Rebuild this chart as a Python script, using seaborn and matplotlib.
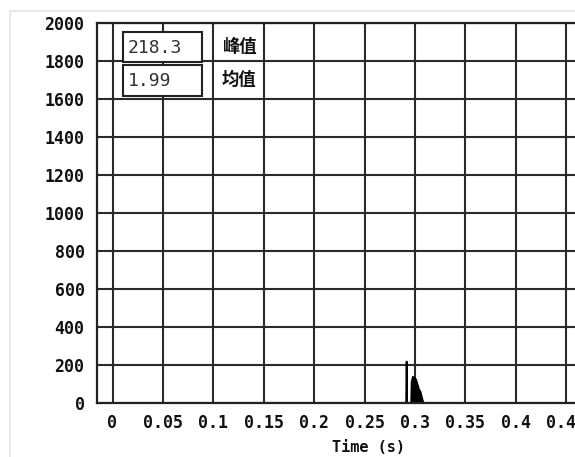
import matplotlib
matplotlib.use("Agg")
import matplotlib.pyplot as plt
import seaborn as sns
import pandas as pd
import numpy as np
from matplotlib.patches import Rectangle
from matplotlib.lines import Line2D
from matplotlib.ticker import MultipleLocator, FixedLocator, FixedFormatter

# ---- data ----
time_s = [0.0, 0.2913, 0.2918, 0.2923, 0.2963, 0.2968, 0.2980, 0.2995, 0.3010,
          0.3025, 0.3040, 0.3055, 0.3070, 0.3085, 0.4700]
amplitude = [0.0, 0.0, 218.3, 0.0, 0.0, 110.0, 138.0, 132.0, 125.0,
             100.0, 72.0, 60.0, 28.0, 0.0, 0.0]
x_ticks = [0, 0.05, 0.1, 0.15, 0.2, 0.25, 0.3, 0.35, 0.4, 0.45]
x_tick_labels = ["0", "0.05", "0.1", "0.15", "0.2", "0.25", "0.3", "0.35", "0.4", "0.45"]
y_ticks = [0, 200, 400, 600, 800, 1000, 1200, 1400, 1600, 1800, 2000]
peak_value = "218.3"
mean_value = "1.99"
peak_label = "峰值"
mean_label = "均值"
x_label = "Time (s)"

df = pd.DataFrame({"time": time_s, "amp": amplitude})

sns.set_theme(style="white")
plt.rcParams['font.family'] = ['DejaVu Sans Mono', 'Noto Sans CJK SC']

W, H = 575, 457
fig = plt.figure(figsize=(W / 100, H / 100), dpi=100)
fig.patch.set_facecolor("white")

# faint scan frame
fig.add_artist(Line2D([10 / W, 10 / W], [0, 1 - 11 / H], transform=fig.transFigure,
                      color="#e6e6e6", linewidth=1.2))
fig.add_artist(Line2D([10 / W, 1], [1 - 11 / H, 1 - 11 / H], transform=fig.transFigure,
                      color="#e6e6e6", linewidth=1.2))

ax = fig.add_axes([97 / W, 1 - 403 / H, 1 - 97 / W, (403 - 23) / H])

sns.lineplot(data=df, x="time", y="amp", ax=ax, color="black", linewidth=1.3,
             estimator=None, sort=False)
mask = np.array(df["time"]) > 0.295
ax.fill_between(df["time"], 0, df["amp"], where=mask, color="black", linewidth=0)

px_per_unit = 1008.0
ax.set_xlim((97 - 112.5) / px_per_unit, (575 - 112.5) / px_per_unit)
ax.set_ylim(0, 2000)

ax.xaxis.set_major_locator(FixedLocator(x_ticks))
ax.xaxis.set_major_formatter(FixedFormatter(x_tick_labels))
ax.xaxis.set_minor_locator(MultipleLocator(0.01))
ax.yaxis.set_major_locator(FixedLocator(y_ticks))
ax.yaxis.set_minor_locator(MultipleLocator(40))

ax.grid(True, which="major", color="#2a2a2a", linewidth=1.5)
ax.set_axisbelow(True)
for name, s in ax.spines.items():
    s.set_color("#222222")
    s.set_linewidth(1.6)
ax.spines["right"].set_visible(False)

ax.tick_params(axis="both", which="major", direction="out", length=6, width=1.5,
               color="#444444", labelsize=12, labelcolor="#111111")
ax.tick_params(axis="both", which="minor", direction="out", length=3, width=1.2,
               color="#888888")
ax.tick_params(axis="y", which="major", pad=3)
ax.tick_params(axis="x", which="major", pad=2)
for lab in ax.get_xticklabels() + ax.get_yticklabels():
    lab.set_fontweight("bold")

ax.set_xlabel("")
ax.set_ylabel("")
fig.text(368 / W, 1 - 447 / H, x_label, fontsize=11, fontweight="bold",
         color="#111111", ha="center", va="center")

# value boxes
for (y0, y1) in [(32, 62), (65, 96)]:
    fig.add_artist(Rectangle((123 / W, 1 - y1 / H), (202 - 123) / W, (y1 - y0) / H,
                             transform=fig.transFigure, facecolor="white",
                             edgecolor="#222222", linewidth=1.5, zorder=5))
fig.text(128 / W, 1 - 48 / H, peak_value, fontsize=13, color="#333333",
         ha="left", va="center", zorder=6)
fig.text(128 / W, 1 - 81 / H, mean_value, fontsize=13, color="#333333",
         ha="left", va="center", zorder=6)
fig.text(222 / W, 1 - 47 / H, peak_label, fontsize=12.5, color="#111111",
         fontweight="bold", ha="left", va="center",
         family=['Noto Sans CJK SC', 'DejaVu Sans'], zorder=6)
fig.text(222 / W, 1 - 80 / H, mean_label, fontsize=12.5, color="#111111",
         fontweight="bold", ha="left", va="center",
         family=['Noto Sans CJK SC', 'DejaVu Sans'], zorder=6)

fig.savefig("out.png", dpi=100, facecolor="white")
